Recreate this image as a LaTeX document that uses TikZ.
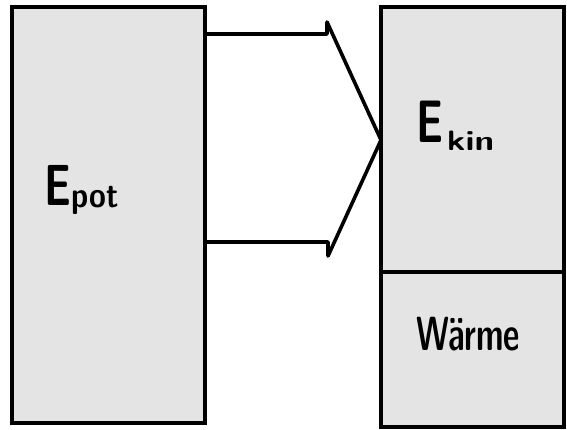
\documentclass[tikz,border=0pt]{standalone}
\usepackage{graphicx}
\definecolor{boxgray}{HTML}{E4E4E4}
\tikzset{
  ebox/.style={draw=black, fill=boxgray, line width=3.6pt, inner sep=0pt, outer sep=0pt},
  arrowline/.style={draw=black, line width=3.6pt, line join=round, line cap=round},
  lbl/.style={inner sep=0pt, outer sep=0pt, anchor=base west, font=\sffamily\bfseries}
}
\begin{document}
\begin{tikzpicture}[x=1pt, y=-1pt]
\useasboundingbox (0,0) rectangle (567,429);
% boxes
\node[ebox, minimum width=193pt, minimum height=416pt] (pot) at (108.5,215) {};
\node[ebox, minimum width=183pt, minimum height=265pt] (kin) at (472.5,139.5) {};
\node[ebox, minimum width=183pt, minimum height=155pt] (waerme) at (472.5,349.5) {};
% arrow
\coordinate (a1) at (pot.east |- 0,34);
\coordinate (a2) at (327,34);
\coordinate (a3) at (327,22);
\coordinate (tip) at (kin.west |- 0,140);
\coordinate (a5) at (328,256);
\coordinate (a6) at (328,242);
\coordinate (a7) at (pot.east |- 0,242);
\draw[arrowline] (a1) -- (a2) -- (a3) -- (tip) -- (a5) -- (a6) -- (a7);
% labels
\node[lbl] (tpot) at (44,205) {\scalebox{0.72}[1]{\fontsize{58}{62}\selectfont E}\hspace{1pt}\raisebox{-2pt}{\scalebox{0.85}[1]{\fontsize{36}{40}\selectfont pot}}};
\node[lbl] (tkin) at (416,142) {\scalebox{0.7}[1]{\fontsize{60}{64}\selectfont E}\hspace{4pt}\raisebox{-8pt}{\scalebox{1.25}[1]{\fontsize{28}{30}\selectfont kin}}};
\node[lbl] (twaerme) at (416,350) {\scalebox{0.66}[1]{\fontsize{48}{52}\selectfont Wärme}};
\end{tikzpicture}
\end{document}
